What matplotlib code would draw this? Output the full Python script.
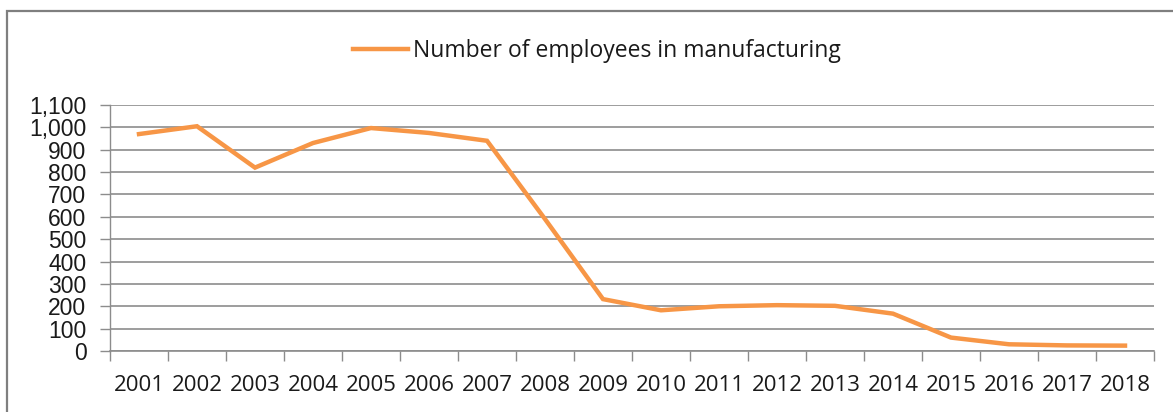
import matplotlib
matplotlib.use("Agg")
import matplotlib.pyplot as plt
import numpy as np
from matplotlib.patches import Rectangle
from matplotlib.ticker import FuncFormatter, FixedLocator, NullFormatter

years = [str(y) for y in range(2001, 2019)]
employees = [970, 1005, 820, 930, 997, 975, 940, 590, 232,
             182, 200, 205, 202, 167, 60, 30, 25, 24]

LINE_COLOR = "#F79646"
GRID_COLOR = "#8C8C8C"
TEXT_COLOR = "#1a1a1a"

fig = plt.figure(figsize=(11.73, 4.12), dpi=100)
ax = fig.add_axes([110 / 1173, 1 - 351 / 412, (1154 - 110) / 1173, (351 - 105) / 412])

x = np.arange(len(years))
line, = ax.plot(x, employees, color=LINE_COLOR, linewidth=3.2,
                solid_joinstyle="miter", label="Number of employees in manufacturing")

ax.set_xlim(-0.5, len(years) - 0.5)
ax.set_ylim(0, 1100)
ax.set_yticks(np.arange(0, 1101, 100))
ax.yaxis.set_major_formatter(FuncFormatter(lambda v, p: f"{int(v):,}"))
ax.yaxis.grid(True, color=GRID_COLOR, linewidth=1.2)
ax.set_axisbelow(True)

# category labels sit between boundary ticks, like a spreadsheet category axis
ax.xaxis.set_major_locator(FixedLocator(np.arange(-0.5, len(years), 1.0)))
ax.xaxis.set_major_formatter(NullFormatter())
ax.xaxis.set_minor_locator(FixedLocator(x))
ax.set_xticklabels(years, minor=True)
ax.tick_params(axis="x", which="major", length=7, width=1.0, color=GRID_COLOR, direction="out")
ax.tick_params(axis="x", which="minor", length=0, pad=17, labelsize=16, labelcolor=TEXT_COLOR)
for lab in ax.get_xticklabels(minor=True):
    lab.set_family(["Open Sans", "DejaVu Sans"])
ax.tick_params(axis="y", length=7, width=1.0, color=GRID_COLOR, direction="out",
               labelsize=16.5, pad=10, labelcolor=TEXT_COLOR)
for lab in ax.get_yticklabels():
    lab.set_family(["Liberation Sans", "DejaVu Sans"])

for side in ["top", "right"]:
    ax.spines[side].set_visible(False)
ax.spines["left"].set_color(GRID_COLOR)
ax.spines["bottom"].set_color(GRID_COLOR)
ax.spines["left"].set_linewidth(1.0)
ax.spines["bottom"].set_linewidth(1.2)

leg = fig.legend(handles=[line], loc="center", bbox_to_anchor=(597 / 1173, 1 - 51 / 412),
                 frameon=False, handlelength=2.4, handletextpad=0.2,
                 prop={"family": ["Open Sans", "DejaVu Sans"], "size": 16.5})
for t in leg.get_texts():
    t.set_color(TEXT_COLOR)

# chart frame, running off the right and bottom edges
fig.patches.append(Rectangle((7 / 1173, -0.1), 1.2, 1 - 11 / 412 + 0.1,
                             transform=fig.transFigure, fill=False,
                             edgecolor="#7F7F7F", linewidth=1.6))

fig.savefig("out.png", dpi=100)
